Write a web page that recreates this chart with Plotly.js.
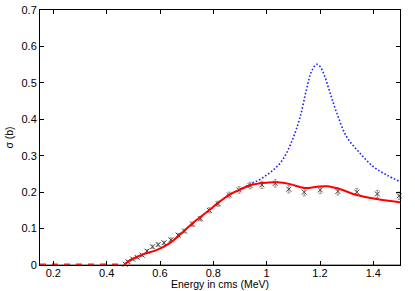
<!DOCTYPE html>
<html><head><meta charset="utf-8">
<script src="https://cdn.plot.ly/plotly-3.0.1.min.js"></script>
<style>html,body{margin:0;padding:0;background:#fff;}#chart{width:415px;height:291px;}</style>
</head><body><div id="chart"></div>
<script>
// Experimental points
const dataE = [0.470,0.480,0.498,0.514,0.533,0.551,0.572,0.593,0.615,0.641,0.668,0.692,0.722,0.752,0.785,0.818,0.860,0.897,0.938,0.982,1.032,1.083,1.141,1.201,1.267,1.338,1.415,1.497];
const dataSigma = [0.002,0.009,0.016,0.021,0.027,0.038,0.050,0.056,0.061,0.069,0.082,0.093,0.112,0.127,0.150,0.168,0.192,0.206,0.218,0.220,0.224,0.208,0.200,0.206,0.202,0.200,0.195,0.190];
const dataErr = [0.003,0.003,0.003,0.003,0.003,0.004,0.004,0.004,0.004,0.005,0.005,0.005,0.006,0.006,0.007,0.007,0.008,0.009,0.009,0.010,0.010,0.010,0.010,0.010,0.010,0.010,0.010,0.010];
// Fit (red solid)
const fitE = [0.465,0.489,0.539,0.587,0.637,0.688,0.738,0.789,0.813,0.863,0.900,0.938,0.970,1.000,1.038,1.088,1.138,1.165,1.188,1.226,1.276,1.338,1.413,1.500];
const fitSigma = [0.000,0.014,0.030,0.041,0.060,0.092,0.124,0.153,0.168,0.194,0.207,0.219,0.224,0.226,0.227,0.222,0.212,0.212,0.215,0.216,0.208,0.192,0.181,0.172];
// Below-threshold (red dashed)
const threshE = [0.15,0.465];
const threshSigma = [0,0];
// Without-interference curve (blue dotted)
const blueE = [0.850,0.900,0.938,0.970,1.000,1.025,1.050,1.075,1.100,1.125,1.150,1.169,1.188,1.200,1.213,1.238,1.263,1.300,1.350,1.400,1.450,1.500];
const blueSigma = [0.190,0.207,0.222,0.233,0.247,0.261,0.279,0.308,0.350,0.405,0.484,0.533,0.551,0.545,0.527,0.472,0.417,0.352,0.307,0.270,0.247,0.229];
const xTitle = 'Energy in cms (MeV)';
const yTitle = 'σ (b)';

const traces = [
  {x: threshE, y: threshSigma, mode:'lines', line:{color:'#e0201a', width:3, dash:'6px,6px'}, hoverinfo:'skip'},
  {x: blueE, y: blueSigma, mode:'lines', line:{color:'#2020ff', width:1.6, dash:'1.6px,2px', shape:'spline'}, hoverinfo:'skip'},
  {x: dataE, y: dataSigma, mode:'markers', marker:{symbol:'x-thin-open', size:5, color:'#444', line:{width:1, color:'#444'}},
   error_y:{type:'data', array: dataErr, visible:true, color:'#999', thickness:1, width:1.5}, cliponaxis:false},
  {x: fitE, y: fitSigma, mode:'lines', line:{color:'#ff0000', width:2, shape:'spline'}, hoverinfo:'skip'}
];

const font = {family:'"Liberation Sans", Arial, sans-serif', size:11, color:'#000'};
const tfont = {family:'"Liberation Sans", Arial, sans-serif', size:10.5, color:'#000'};
const layout = {
  width:415, height:291,
  margin:{l:40, r:15, t:10, b:26},
  paper_bgcolor:'#fff', plot_bgcolor:'#fff',
  showlegend:false,
  font: font,
  xaxis:{range:[0.15,1.5], tickvals:[0.2,0.4,0.6,0.8,1.0,1.2,1.4], ticktext:['0.2','0.4','0.6','0.8','1','1.2','1.4'],
    ticks:'inside', ticklen:4, tickcolor:'#000', showline:true, linecolor:'#000', linewidth:1, mirror:'ticks',
    showgrid:false, zeroline:false, tickfont:font, ticklabelstandoff:-2},
  yaxis:{range:[0,0.7], tickvals:[0,0.1,0.2,0.3,0.4,0.5,0.6,0.7], ticktext:['0','0.1','0.2','0.3','0.4','0.5','0.6','0.7'],
    ticks:'inside', ticklen:4, tickcolor:'#000', showline:true, linecolor:'#000', linewidth:1, mirror:'ticks',
    showgrid:false, zeroline:false, tickfont:font,
    title:{text:yTitle, font:tfont, standoff:5}},
  annotations:[{text:xTitle, xref:'paper', yref:'paper', x:0.5, y:-0.074, xanchor:'center', yanchor:'middle', showarrow:false, font:tfont}],
  shapes:[{type:'line', xref:'paper', yref:'paper', x0:0, x1:1, y0:0, y1:0, line:{color:'#888', width:1.5}, layer:'below'}]
};
Plotly.newPlot('chart', traces, layout, {staticPlot:true, displayModeBar:false});
</script></body></html>
